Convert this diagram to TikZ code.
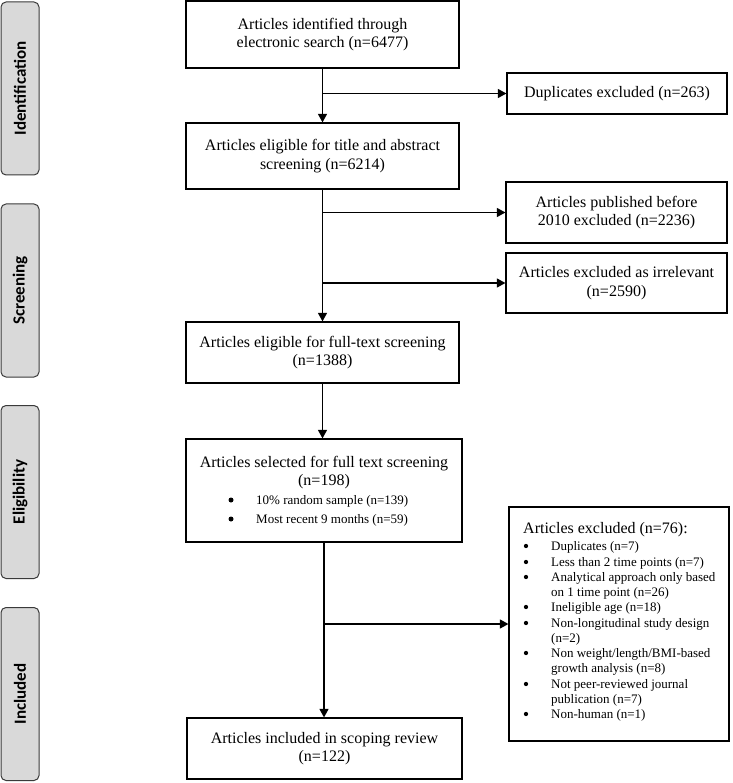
\documentclass[tikz,border=0pt]{standalone}
\usepackage{fontspec}
\setmainfont{Liberation Serif}
\newfontfamily\sidefont{Carlito}
\usetikzlibrary{arrows.meta}
\definecolor{sidegray}{HTML}{D9D9D9}
\definecolor{sideline}{HTML}{3A3A3A}
\begin{document}
\begin{tikzpicture}[x=1pt,y=-1pt,
  box/.style={draw, line width=1.2pt, inner sep=0pt, align=center,
    font=\fontsize{16}{18.5}\selectfont},
  bigtext/.style={inner sep=0pt, anchor=base, font=\fontsize{16}{18.5}\selectfont},
  smalltext/.style={inner sep=0pt, anchor=base west, font=\fontsize{13}{15}\selectfont},
  dotbig/.style={circle, fill, draw=none, inner sep=0pt, minimum size=5pt},
  dotsmall/.style={circle, fill, draw=none, inner sep=0pt, minimum size=4.3pt},
  side/.style={draw=sideline, fill=sidegray, rounded corners=5pt, line width=1pt,
    minimum width=173pt, minimum height=38pt, inner sep=0pt, rotate=90,
    font=\sidefont\bfseries\fontsize{17}{20}\selectfont},
  arr/.style={line width=1.2pt, -{Triangle[length=8.5pt,width=9pt]}}
]
\useasboundingbox (0,0) rectangle (732,783);

% phase side bars
\node[side] (sId)  at (20,88.5) {Identification};
\node[side] (sScr) at (20,290.5) {Screening};
\node[side] (sEli) at (20,492) {Eligibility};
\node[side] (sInc) at (20,694) {Included};

% main boxes
\node[box, minimum width=273pt, minimum height=67pt] (b1) at (322.5,34.5)
  {Articles identified through\\electronic search (n=6477)};
\node[box, minimum width=273pt, minimum height=66pt] (b2) at (322.5,156)
  {Articles eligible for title and abstract\\screening (n=6214)};
\node[box, minimum width=273pt, minimum height=61pt] (b3) at (322.5,352.5)
  {Articles eligible for full-text screening\\(n=1388)};
\node[box, minimum width=276pt, minimum height=103pt] (b4) at (324,490.5) {};
\node[box, minimum width=275pt, minimum height=61pt] (b5) at (324.5,748.5)
  {Articles included in scoping review\\(n=122)};

% box 4 contents
\node[bigtext] (b4t1) at (324,467) {Articles selected for full text screening};
\node[bigtext] (b4t2) at (324,485) {(n=198)};
\node[dotbig] (b4m1) at (231,500) {};
\node[smalltext] (b4a) at (256,504) {10\% random sample (n=139)};
\node[dotbig] (b4m2) at (231,519) {};
\node[smalltext] (b4b) at (256,523) {Most recent 9 months (n=59)};

% exclusion boxes
\node[box, minimum width=220pt, minimum height=41pt] (dup) at (617,93.5)
  {Duplicates excluded (n=263)};
\node[box, minimum width=221pt, minimum height=61pt] (pub) at (616.5,212.5)
  {Articles published before\\2010 excluded (n=2236)};
\node[box, minimum width=221pt, minimum height=60pt] (irr) at (616.5,283)
  {Articles excluded as irrelevant\\(n=2590)};
\node[box, minimum width=220pt, minimum height=234pt] (exc) at (619,624) {};

% excluded list
\node[inner sep=0pt, anchor=base west, font=\fontsize{16}{18.5}\selectfont] (eh) at (523,533)
  {Articles excluded (n=76):};
\node[dotsmall] (em1) at (526,546) {};
\node[smalltext] (e1) at (551,550) {Duplicates (n=7)};
\node[dotsmall] (em2) at (526,562) {};
\node[smalltext] (e2) at (551,566) {Less than 2 time points (n=7)};
\node[dotsmall] (em3) at (526,577) {};
\node[smalltext] (e3) at (551,581) {Analytical approach only based};
\node[smalltext] (e3b) at (551,596) {on 1 time point (n=26)};
\node[dotsmall] (em4) at (526,607) {};
\node[smalltext] (e4) at (551,611) {Ineligible age (n=18)};
\node[dotsmall] (em5) at (526,623) {};
\node[smalltext] (e5) at (551,627) {Non-longitudinal study design};
\node[smalltext] (e5b) at (551,642) {(n=2)};
\node[dotsmall] (em6) at (526,653) {};
\node[smalltext] (e6) at (551,657) {Non weight/length/BMI-based};
\node[smalltext] (e6b) at (551,672) {growth analysis (n=8)};
\node[dotsmall] (em7) at (526,684) {};
\node[smalltext] (e7) at (551,688) {Not peer-reviewed journal};
\node[smalltext] (e7b) at (551,703) {publication (n=7)};
\node[dotsmall] (em8) at (526,714) {};
\node[smalltext] (e8) at (551,718) {Non-human (n=1)};

% junction points
\coordinate (j1) at (322.5,93.5);
\coordinate (j2) at (322.5,212.5);
\coordinate (j3) at (322.5,283);
\coordinate (j4) at (324,624);

% connectors
\draw[arr] (b1.south) -- (b2.north);
\draw[arr] (b2.south) -- (b3.north);
\draw[arr] (b3.south) -- (b3.south |- b4.north);
\draw[arr] (b4.south) -- (b4.south |- b5.north);
\draw[arr] (j1) -- (dup.west);
\draw[arr] (j2) -- (pub.west);
\draw[arr] (j3) -- (irr.west);
\draw[arr] (j4) -- (exc.west);
\end{tikzpicture}
\end{document}
